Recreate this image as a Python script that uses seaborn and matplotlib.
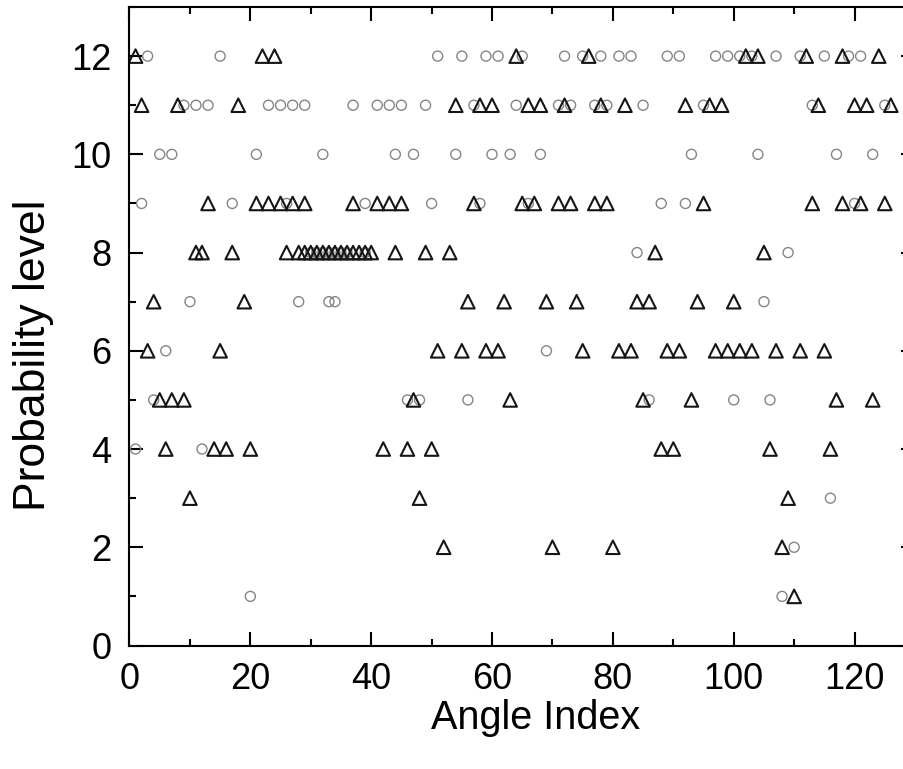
import matplotlib
matplotlib.use("Agg")
import matplotlib.pyplot as plt
from matplotlib.ticker import MultipleLocator
import pandas as pd
import seaborn as sns

# Angle indices at each probability level, open circles (grey series)
circle_levels = {
    12: [3, 15, 51, 55, 59, 61, 65, 72, 75, 78, 81, 83, 89, 91, 97, 99, 101, 103, 107, 111, 115, 119, 121],
    11: [9, 11, 13, 23, 25, 27, 29, 37, 41, 43, 45, 49, 57, 64, 71, 73, 77, 79, 85, 95, 113, 125],
    10: [5, 7, 21, 32, 44, 47, 54, 60, 63, 68, 93, 104, 117, 123],
    9: [2, 17, 26, 39, 50, 58, 66, 88, 92, 120],
    8: [30, 31, 32, 33, 34, 35, 36, 39, 84, 109],
    7: [10, 28, 33, 34, 105],
    6: [6, 69],
    5: [4, 46, 48, 56, 86, 100, 106],
    4: [1, 12],
    3: [116],
    2: [110],
    1: [20, 108],
}

# Angle indices at each probability level, open triangles (black series)
triangle_levels = {
    12: [1, 22, 24, 64, 76, 102, 104, 112, 118, 124],
    11: [2, 8, 18, 54, 58, 60, 66, 68, 72, 78, 82, 92, 96, 98, 114, 120, 122, 126],
    9: [13, 21, 23, 25, 27, 29, 37, 41, 43, 45, 57, 65, 67, 71, 73, 77, 79, 95, 113, 118, 121, 125],
    8: [11, 12, 17, 26, 28, 29, 30, 31, 32, 33, 34, 35, 36, 37, 38, 39, 40, 44, 49, 53, 87, 105],
    7: [4, 19, 56, 62, 69, 74, 84, 86, 94, 100],
    6: [3, 15, 51, 55, 59, 61, 75, 81, 83, 89, 91, 97, 99, 101, 103, 107, 111, 115],
    5: [5, 7, 9, 47, 63, 85, 93, 117, 123],
    4: [6, 14, 16, 20, 42, 46, 50, 88, 90, 106, 116],
    3: [10, 48, 109],
    2: [52, 70, 80, 108],
    1: [110],
}

x_label = "Angle Index"
y_label = "Probability level"


def to_frame(levels):
    rows = [(a, lvl) for lvl, angles in levels.items() for a in angles]
    return pd.DataFrame(rows, columns=["angle", "level"])


circles = to_frame(circle_levels)
triangles = to_frame(triangle_levels)

sns.set_style("ticks")
plt.rcParams["font.family"] = ["Liberation Sans", "DejaVu Sans"]
plt.rcParams["text.color"] = "black"
plt.rcParams["axes.labelcolor"] = "black"
plt.rcParams["xtick.color"] = "black"
plt.rcParams["ytick.color"] = "black"

fig = plt.figure(figsize=(9.04, 7.69), dpi=100)
ax = fig.add_axes([129.5 / 904, (769 - 645.5) / 769, 785.5 / 904, 638.5 / 769])

sns.scatterplot(data=circles, x="angle", y="level", marker="o", s=52,
                facecolor="none", edgecolor="#858585", linewidth=1.0, ax=ax)
sns.scatterplot(data=triangles, x="angle", y="level", marker="^", s=95,
                facecolor="none", edgecolor="#151515", linewidth=1.5, ax=ax)

ax.set_xlim(0, 130)
ax.set_ylim(0, 13)
ax.xaxis.set_major_locator(MultipleLocator(20))
ax.xaxis.set_minor_locator(MultipleLocator(10))
ax.yaxis.set_major_locator(MultipleLocator(2))
ax.yaxis.set_minor_locator(MultipleLocator(1))

for side in ["left", "right", "top", "bottom"]:
    ax.spines[side].set_visible(True)
    ax.spines[side].set_linewidth(1.5)
    ax.spines[side].set_color("black")

ax.tick_params(which="both", direction="in", top=True, right=True, width=1.5,
               color="black", labelcolor="black")
ax.tick_params(which="major", length=10, labelsize=26)
ax.tick_params(axis="x", which="major", pad=12)
ax.tick_params(axis="y", which="major", pad=13)
ax.tick_params(which="minor", length=5)

ax.set_xlabel(x_label, fontsize=28.5)
ax.set_ylabel(y_label, fontsize=32)
ax.xaxis.set_label_coords(0.5175, -0.0845)
ax.yaxis.set_label_coords(-0.0955, 0.455)

fig.savefig("out.png", dpi=100)
